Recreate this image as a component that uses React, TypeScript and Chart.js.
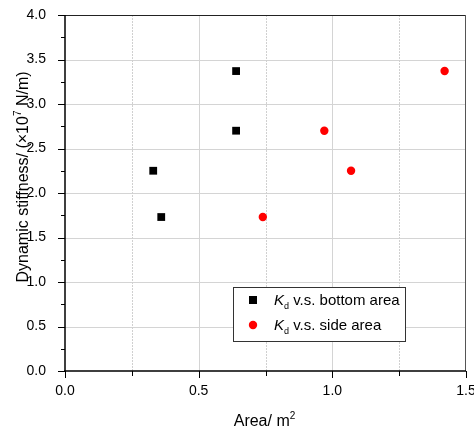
import React, { useEffect, useRef } from "react";
import { Chart, registerables } from "chart.js";

Chart.register(...registerables);

// ---- data ----
const bottomArea = [0.33, 0.36, 0.64, 0.64];
const bottomKd = [2.25, 1.73, 2.7, 3.37];
const sideArea = [0.74, 0.97, 1.07, 1.42];
const sideKd = [1.73, 2.7, 2.25, 3.37];

const xMin = 0;
const xMax = 1.5;
const xStep = 0.5;
const xMinorStep = 0.25;
const yMin = 0;
const yMax = 4;
const yStep = 0.5;
const yMinorStep = 0.25;

const legendSymbol = "K";
const legendSub = "d";
const legendTexts = [" v.s. bottom area", " v.s. side area"];
const yTitleParts = ["Dynamic stiffness/ (\u00d710", "7", " N/m)"];
const xTitleParts = ["Area/ m", "2"];

const FONT = "'Liberation Sans', Arial, sans-serif";

type Part = { text: string; size: number; dy: number; italic?: boolean };

function richWidth(ctx: CanvasRenderingContext2D, parts: Part[]) {
  let w = 0;
  for (const p of parts) {
    ctx.font = `${p.italic ? "italic " : ""}${p.size}px ${FONT}`;
    w += ctx.measureText(p.text).width;
  }
  return w;
}

function drawRich(
  ctx: CanvasRenderingContext2D,
  parts: Part[],
  x: number,
  y: number,
  align: "left" | "center"
) {
  let cx = align === "center" ? x - richWidth(ctx, parts) / 2 : x;
  ctx.textAlign = "left";
  ctx.textBaseline = "alphabetic";
  for (const p of parts) {
    ctx.font = `${p.italic ? "italic " : ""}${p.size}px ${FONT}`;
    ctx.fillText(p.text, cx, y + p.dy);
    cx += ctx.measureText(p.text).width;
  }
}

const decorPlugin = {
  id: "decor",
  beforeDatasetsDraw(chart: any) {
    const { ctx, chartArea: a, scales } = chart;
    const xs = scales.x;
    const ys = scales.y;
    ctx.save();
    ctx.strokeStyle = "#d4d4d4";
    ctx.lineWidth = 1;
    for (let v = yMin + yStep; v < yMax - 1e-9; v += yStep) {
      const py = Math.round(ys.getPixelForValue(v)) + 0.5;
      ctx.beginPath();
      ctx.moveTo(a.left, py);
      ctx.lineTo(a.right, py);
      ctx.stroke();
    }
    for (let v = xMin + xMinorStep; v < xMax - 1e-9; v += xMinorStep) {
      const major = Math.abs(v / xStep - Math.round(v / xStep)) < 1e-6;
      const px = Math.round(xs.getPixelForValue(v)) + 0.5;
      ctx.beginPath();
      if (major) {
        ctx.setLineDash([]);
        ctx.strokeStyle = "#d4d4d4";
      } else {
        ctx.setLineDash([2, 1]);
        ctx.strokeStyle = "#d0d0d0";
      }
      ctx.moveTo(px, a.top);
      ctx.lineTo(px, a.bottom);
      ctx.stroke();
    }
    ctx.setLineDash([]);
    ctx.restore();
  },
  afterDraw(chart: any) {
    const { ctx, chartArea: a, scales } = chart;
    const xs = scales.x;
    const ys = scales.y;
    ctx.save();
    ctx.lineWidth = 1;
    ctx.strokeStyle = "#222";
    ctx.beginPath();
    ctx.moveTo(a.left, a.top + 0.5);
    ctx.lineTo(a.right, a.top + 0.5);
    ctx.stroke();
    ctx.strokeStyle = "#555";
    ctx.beginPath();
    ctx.moveTo(a.right - 0.5, a.top);
    ctx.lineTo(a.right - 0.5, a.bottom);
    ctx.stroke();
    ctx.strokeStyle = "#000";
    ctx.lineWidth = 1.5;
    ctx.beginPath();
    ctx.moveTo(a.left, a.top);
    ctx.lineTo(a.left, a.bottom + 1);
    ctx.moveTo(a.left - 1, a.bottom);
    ctx.lineTo(a.right, a.bottom);
    ctx.stroke();
    ctx.lineWidth = 1;
    for (let v = yMin; v <= yMax + 1e-9; v += yMinorStep) {
      const major = Math.abs(v / yStep - Math.round(v / yStep)) < 1e-6;
      const py = Math.round(ys.getPixelForValue(v)) + 0.5;
      ctx.beginPath();
      ctx.moveTo(a.left - (major ? 7 : 4), py);
      ctx.lineTo(a.left, py);
      ctx.stroke();
    }
    for (let v = xMin; v <= xMax + 1e-9; v += xMinorStep) {
      const major = Math.abs(v / xStep - Math.round(v / xStep)) < 1e-6;
      const px = Math.round(xs.getPixelForValue(v)) + 0.5;
      ctx.beginPath();
      ctx.moveTo(px, a.bottom);
      ctx.lineTo(px, a.bottom + (major ? 7 : 5));
      ctx.stroke();
    }
    ctx.fillStyle = "#000";
    drawRich(
      ctx,
      [
        { text: xTitleParts[0], size: 16, dy: 0 },
        { text: xTitleParts[1], size: 10, dy: -7 },
      ],
      (a.left + a.right) / 2 - 1,
      426,
      "center"
    );
    ctx.save();
    ctx.translate(28, 177);
    ctx.rotate(-Math.PI / 2);
    drawRich(
      ctx,
      [
        { text: yTitleParts[0], size: 16, dy: 0 },
        { text: yTitleParts[1], size: 10, dy: -7 },
        { text: yTitleParts[2], size: 16, dy: 0 },
      ],
      0,
      0,
      "center"
    );
    ctx.restore();
    const lx = 233.5;
    const ly = 287.5;
    const lw = 172;
    const lh = 54;
    ctx.fillStyle = "#fff";
    ctx.fillRect(lx, ly, lw, lh);
    ctx.strokeStyle = "#333";
    ctx.lineWidth = 1;
    ctx.strokeRect(lx, ly, lw, lh);
    const ds = chart.data.datasets;
    for (let i = 0; i < ds.length; i++) {
      const cy = 300 + i * 25;
      ctx.fillStyle = ds[i].backgroundColor;
      if (ds[i].pointStyle === "rect") {
        ctx.fillRect(249, cy - 4, 8, 8);
      } else {
        ctx.beginPath();
        ctx.arc(253, cy, 4.2, 0, Math.PI * 2);
        ctx.fill();
      }
      ctx.fillStyle = "#000";
      drawRich(
        ctx,
        [
          { text: legendSymbol, size: 15, dy: 0, italic: true },
          { text: legendSub, size: 9, dy: 3.5 },
          { text: legendTexts[i], size: 15, dy: 0 },
        ],
        274,
        cy + 5,
        "left"
      );
    }
    ctx.restore();
  },
};

export default function App() {
  const ref = useRef<HTMLCanvasElement | null>(null);
  useEffect(() => {
    if (!ref.current) return;
    const chart = new Chart(ref.current, {
      type: "scatter",
      data: {
        datasets: [
          {
            label: legendSymbol + legendSub + legendTexts[0],
            data: bottomArea.map((x, i) => ({ x, y: bottomKd[i] })),
            pointStyle: "rect",
            pointRadius: 5.5,
            backgroundColor: "#000",
            borderColor: "#000",
            borderWidth: 0,
          },
          {
            label: legendSymbol + legendSub + legendTexts[1],
            data: sideArea.map((x, i) => ({ x, y: sideKd[i] })),
            pointStyle: "circle",
            pointRadius: 4.2,
            backgroundColor: "#ff0000",
            borderColor: "#ff0000",
            borderWidth: 0,
          },
        ],
      },
      options: {
        responsive: false,
        animation: false,
        layout: { padding: { top: 15, right: 8, left: 0, bottom: 0 } },
        plugins: {
          legend: { display: false },
          tooltip: { enabled: false },
        },
        scales: {
          x: {
            type: "linear",
            min: xMin,
            max: xMax,
            grid: { display: false },
            border: { display: false },
            ticks: {
              stepSize: xStep,
              padding: 4,
              color: "#000",
              font: { family: FONT, size: 14 },
              callback: (v: any) => Number(v).toFixed(1),
            },
            afterFit: (s: any) => {
              s.height = 61;
              s.paddingLeft = 0;
              s.paddingRight = 0;
            },
          },
          y: {
            type: "linear",
            min: yMin,
            max: yMax,
            grid: { display: false },
            border: { display: false },
            ticks: {
              stepSize: yStep,
              padding: 11,
              color: "#000",
              font: { family: FONT, size: 14 },
              callback: (v: any) => Number(v).toFixed(1),
            },
            afterFit: (s: any) => {
              s.width = 65;
              s.paddingTop = 0;
              s.paddingBottom = 0;
            },
          },
        },
      },
      plugins: [decorPlugin],
    } as any);
    return () => chart.destroy();
  }, []);
  return (
    <div style={{ position: "fixed", left: 0, top: 0, width: 474, height: 432, background: "#fff" }}>
      <canvas ref={ref} width={474} height={432} style={{ width: 474, height: 432, display: "block" }} />
    </div>
  );
}
